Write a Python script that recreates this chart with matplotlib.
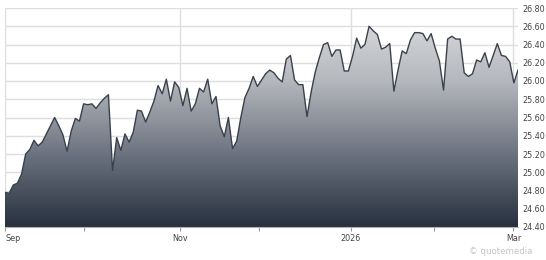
import numpy as np
import matplotlib
matplotlib.use("Agg")
import matplotlib.pyplot as plt
from matplotlib.colors import LinearSegmentedColormap
from matplotlib.patches import Polygon

prices = [24.78, 24.77, 24.86, 24.88, 24.98, 25.20, 25.25, 25.35, 25.29, 25.33,
          25.42, 25.51, 25.60, 25.51, 25.41, 25.23, 25.45, 25.59, 25.56, 25.75,
          25.74, 25.75, 25.70, 25.76, 25.81, 25.85, 25.02, 25.38, 25.24, 25.42,
          25.33, 25.44, 25.68, 25.67, 25.55, 25.66, 25.78, 25.95, 25.86, 26.02,
          25.78, 25.99, 25.93, 25.73, 25.92, 25.67, 25.75, 25.92, 25.88, 26.02,
          25.75, 25.83, 25.51, 25.39, 25.60, 25.26, 25.34, 25.60, 25.82, 25.92,
          26.05, 25.94, 26.01, 26.08, 26.12, 26.09, 26.03, 25.99, 26.24, 26.28,
          26.01, 25.96, 25.96, 25.61, 25.88, 26.10, 26.26, 26.40, 26.42, 26.27,
          26.34, 26.34, 26.11, 26.11, 26.27, 26.47, 26.36, 26.40, 26.60, 26.55,
          26.51, 26.35, 26.37, 26.41, 25.89, 26.12, 26.33, 26.30, 26.45, 26.53,
          26.53, 26.52, 26.44, 26.52, 26.36, 26.22, 25.90, 26.46, 26.49, 26.46,
          26.46, 26.09, 26.05, 26.08, 26.23, 26.21, 26.31, 26.15, 26.28, 26.41,
          26.28, 26.27, 26.21, 25.98, 26.12]

major_pos = [0, 42.4, 83.6, 122.9]
major_labels = ["Sep", "Nov", "2026", "Mar"]
minor_pos = [19.1, 61.5, 103.8]
y_ticks = [24.40, 24.60, 24.80, 25.00, 25.20, 25.40, 25.60, 25.80, 26.00,
           26.20, 26.40, 26.60, 26.80]

x = np.arange(len(prices))
y = np.array(prices)
ymin, ymax = 24.40, 26.80

fig = plt.figure(figsize=(5.46, 2.60), dpi=100)
ax = fig.add_axes([5/546, 33/260, 513/546, 219/260])
ax.set_xlim(0, len(prices) - 1)
ax.set_ylim(ymin, ymax)

cmap = LinearSegmentedColormap.from_list("g", ["#27303e", "#6c7380", "#b4b7bc", "#dfe0e2"])
grad = np.linspace(0, 1, 256).reshape(-1, 1)
im = ax.imshow(grad, cmap=cmap, origin="lower", aspect="auto",
               extent=[0, len(prices) - 1, ymin, ymax], zorder=2)
verts = np.column_stack([np.concatenate([x, [x[-1], x[0]]]),
                         np.concatenate([y, [ymin, ymin]])])
poly = Polygon(verts, closed=True, facecolor="none", edgecolor="none", transform=ax.transData)
ax.add_patch(poly)
im.set_clip_path(poly)
ax.plot(x, y, color="#3a414c", lw=1.0, zorder=3)

for t in y_ticks:
    ax.axhline(t, color="#dedede", lw=1.0, zorder=1)
for p in major_pos:
    ax.axvline(p, color="#dedede", lw=1.0, zorder=1)

for name, s in ax.spines.items():
    s.set_visible(False)
ax.spines["bottom"].set_visible(True)
ax.spines["bottom"].set_color("#b0b0b0")
ax.spines["bottom"].set_linewidth(0.8)
ax.spines["bottom"].set_zorder(4)

ax.yaxis.tick_right()
ax.set_yticks(y_ticks)
ax.set_yticklabels([f"{t:.2f}" for t in y_ticks])
ax.tick_params(axis="y", length=0, pad=3, labelsize=5.8, labelcolor="#444444")
ax.set_xticks(major_pos)
ax.set_xticklabels(major_labels)
ax.set_xticks(minor_pos, minor=True)
ax.tick_params(axis="x", which="both", length=3, width=0.8, color="#999999",
               labelsize=5.8, labelcolor="#444444", pad=2)
for lbl in ax.get_xticklabels():
    lbl.set_horizontalalignment("left" if lbl.get_text() == "Sep" else "center")

fig.text(532/546, 1 - 251/260, "\u00a9 quotemedia", ha="right", va="center",
         fontsize=6.2, color="#c4c4c4")

fig.savefig("out.png", dpi=100, facecolor="white")
